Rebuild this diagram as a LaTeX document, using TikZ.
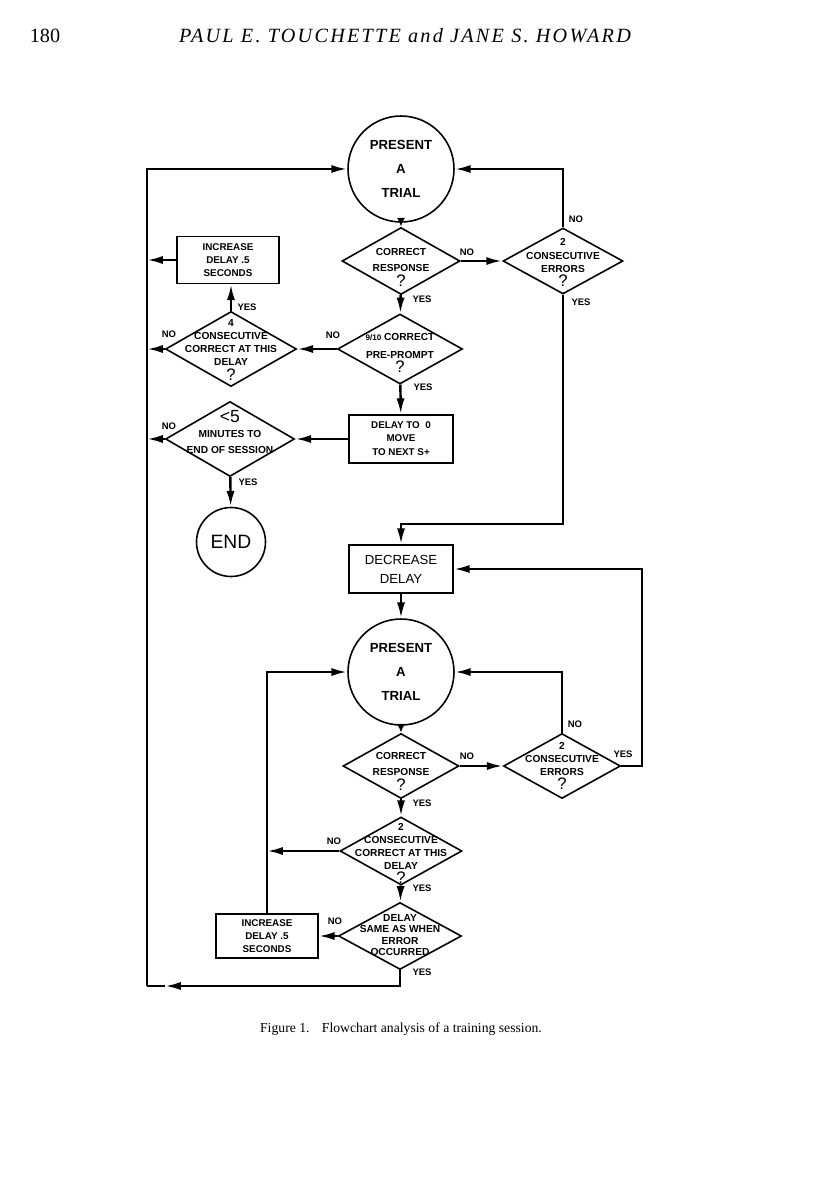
\documentclass[tikz,border=0pt]{standalone}
\usepackage{fontspec}
\setmainfont{Liberation Serif}
\setsansfont{Liberation Sans}
\usetikzlibrary{arrows.meta,shapes.geometric,positioning}

\begin{document}
\begin{tikzpicture}[
    x=0.02cm, y=-0.02cm,
    line/.style={line width=1.4pt},
    arr/.style={line width=1.4pt, -{Latex[length=9pt,width=4.6pt]}},
    sarr/.style={line width=1.4pt, -{Latex[length=5pt,width=4.6pt]}},
    box/.style={draw, line width=0.9pt, inner sep=0pt, align=center, font=\sffamily\bfseries\fontsize{5.6}{7.4}\selectfont},
    dia/.style={draw, diamond, line width=0.9pt, inner sep=0pt},
    dtxt/.style={inner sep=0pt, align=center, font=\sffamily\bfseries\fontsize{5.8}{7.4}\selectfont},
    term/.style={draw, circle, line width=0.9pt, inner sep=0pt, align=center},
    yn/.style={inner sep=0pt, font=\sffamily\bfseries\fontsize{5.4}{6}\selectfont}
]
\useasboundingbox (0,0) rectangle (816,1200);

% page head and caption
\node[anchor=base, font=\fontsize{11.5}{12}\selectfont] (pgno) at (45,42) {180};
\node[anchor=base, font=\itshape\fontsize{11.5}{12}\selectfont\addfontfeatures{LetterSpace=11}] (head) at (405,42) {PAUL E. TOUCHETTE and JANE S. HOWARD};
\node[anchor=base, font=\fontsize{7.8}{9}\selectfont] (capt) at (401,1032) {Figure 1.\hspace{7pt}Flowchart analysis of a training session.};

% upper loop
\node[term, minimum size=2.12cm, font=\sffamily\bfseries\fontsize{7.5}{13.6}\selectfont] (trial1) at (401,169) {PRESENT\\A\\TRIAL};
\node[dia, minimum width=2.36cm, minimum height=1.34cm] (resp1) at (401,261) {};
\node[dtxt] (resp1t) at (401,267) {CORRECT\\[2.2pt]RESPONSE\\[0.6pt]{\mdseries\fontsize{9.5}{7.4}\selectfont ?}};
\node[dia, minimum width=2.4cm, minimum height=1.32cm] (err1) at (563,261) {};
\node[dtxt] (err1t) at (563,262) {2\\[0.6pt]CONSECUTIVE\\ERRORS\\[0.6pt]{\mdseries\fontsize{9.5}{7.4}\selectfont ?}};
\node[dia, minimum width=2.5cm, minimum height=1.4cm] (crit) at (400,349) {};
\node[dtxt] (critt) at (400,353) {{\fontsize{4.6}{7.4}\selectfont 9/10} CORRECT\\[2.6pt]PRE-PROMPT\\[0.6pt]{\mdseries\fontsize{9.5}{7.4}\selectfont ?}};
\node[dia, minimum width=2.62cm, minimum height=1.5cm] (con4) at (231,349) {};
\node[dtxt] (con4t) at (231,350) {4\\[0.4pt]CONSECUTIVE\\CORRECT AT THIS\\DELAY\\[1.2pt]{\mdseries\fontsize{9.5}{7.4}\selectfont ?}};
\node[box, minimum width=2.04cm, minimum height=0.94cm] (inc1) at (228,260) {INCREASE\\DELAY .5\\SECONDS};
\node[box, minimum width=2.08cm, minimum height=0.96cm] (zero) at (401,439) {DELAY TO~~0\\MOVE\\[0.6pt]TO NEXT S+};
\node[dia, minimum width=2.58cm, minimum height=1.5cm] (lt5) at (230,439) {};
\node[dtxt] (lt5t) at (230,432) {{\mdseries\fontsize{10}{7.4}\selectfont <5}\\[1.2pt]MINUTES TO\\[2.2pt]END OF SESSION};
\node[term, minimum size=1.38cm, font=\sffamily\fontsize{11}{11}\selectfont] (endc) at (231,542) {END};

% lower loop
\node[box, minimum width=2.08cm, minimum height=0.96cm, font=\sffamily\fontsize{7.5}{10.8}\selectfont] (dec) at (401,569) {DECREASE\\DELAY};
\node[term, minimum size=2.12cm, font=\sffamily\bfseries\fontsize{7.5}{13.6}\selectfont] (trial2) at (401,672) {PRESENT\\A\\TRIAL};
\node[dia, minimum width=2.32cm, minimum height=1.3cm] (resp2) at (401,766) {};
\node[dtxt] (resp2t) at (401,771) {CORRECT\\[2.2pt]RESPONSE\\[0.6pt]{\mdseries\fontsize{9.5}{7.4}\selectfont ?}};
\node[dia, minimum width=2.34cm, minimum height=1.3cm] (err2) at (562,766) {};
\node[dtxt] (err2t) at (562,766) {2\\CONSECUTIVE\\ERRORS\\[0.6pt]{\mdseries\fontsize{9.5}{7.4}\selectfont ?}};
\node[dia, minimum width=2.44cm, minimum height=1.36cm] (con2) at (401,851) {};
\node[dtxt] (con2t) at (401,853) {2\\CONSECUTIVE\\CORRECT AT THIS\\DELAY\\[0.6pt]{\mdseries\fontsize{9.5}{7.4}\selectfont ?}};
\node[dia, minimum width=2.46cm, minimum height=1.34cm] (same) at (400,936) {};
\node[dtxt, font=\sffamily\bfseries\fontsize{5.8}{6.5}\selectfont] (samet) at (400,935) {DELAY\\SAME AS WHEN\\ERROR\\OCCURRED};
\node[box, minimum width=2.04cm, minimum height=0.88cm] (inc2) at (267,936) {INCREASE\\DELAY .5\\SECONDS};

\coordinate (lft) at (147,986);
\coordinate (botarr) at (165,986);
\coordinate (jn) at (401,524);
\coordinate (rgt) at (642,766);

% connectors
\draw[sarr] (trial1) -- (resp1);
\draw[arr] (resp1) -- (err1);
\draw[arr] (err1.north) |- (trial1);
\draw[arr] (err1.south) |- (jn) -- (dec.north);
\draw[arr] (resp1) -- (crit);
\draw[arr] (crit) -- (con4);
\draw[arr] (con4.north) -- (con4.north |- inc1.south);
\draw[arr] (inc1) -- (inc1 -| lft);
\draw[arr] (con4) -- (con4 -| lft);
\draw[arr] (crit) -- (zero);
\draw[arr] (zero) -- (lt5);
\draw[arr] (lt5) -- (lt5 -| lft);
\draw[arr] (lt5) -- (endc);
\draw[arr] (dec) -- (trial2);
\draw[sarr] (trial2) -- (resp2);
\draw[arr] (resp2) -- (err2);
\draw[arr] (err2.north) |- (trial2);
\draw[arr] (err2.east) -- (rgt) |- (dec);
\draw[arr] (resp2) -- (con2);
\draw[arr] (con2) -- (con2 -| inc2);
\draw[arr] (con2) -- (same);
\draw[arr] (same) -- (inc2);
\draw[arr] (inc2) |- (trial2);
\draw[arr] (same.south) |- (botarr);
\draw[line] (botarr) -- (lft);
\draw[arr] (lft) |- (trial1);

% yes / no labels
\foreach \x/\y/\t [count=\i] in {467/252/NO, 576/219/NO, 169/334/NO, 333/335/NO, 169/426/NO, 575/724/NO, 467/756/NO, 334/841/NO, 335/921/NO,
    581/302/YES, 422/299/YES, 247/307/YES, 423/387/YES, 248/482/YES, 623/754/YES, 422/803/YES, 422/888/YES, 422/972/YES}
  \node[yn] (yn\i) at (\x,\y) {\t};
\end{tikzpicture}
\end{document}
